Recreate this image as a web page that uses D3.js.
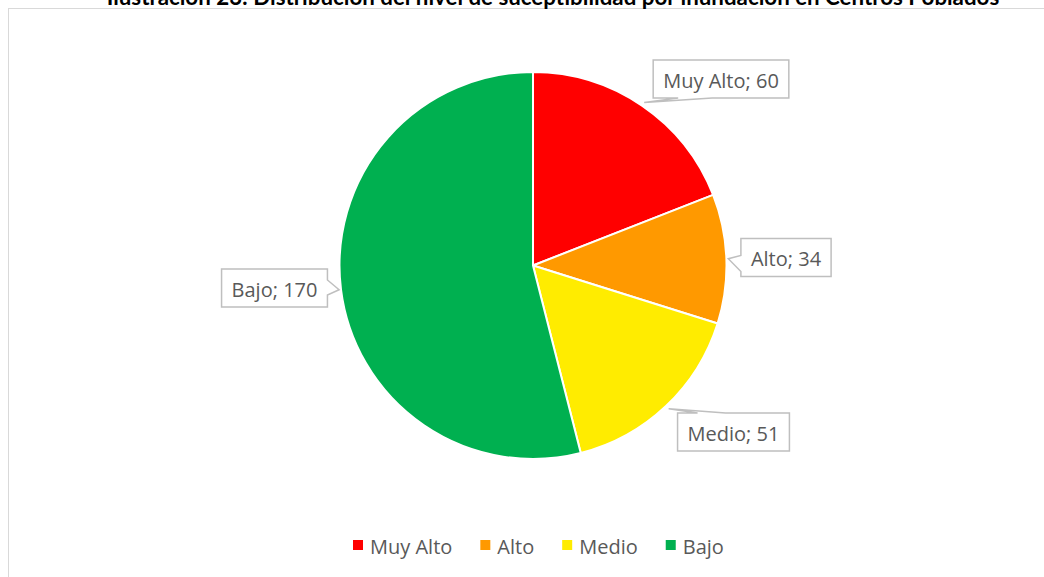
<!DOCTYPE html>
<html>
<head>
<meta charset="utf-8">
<script src="https://cdn.jsdelivr.net/npm/d3@7"></script>
<style>
  html, body { margin: 0; padding: 0; background: #ffffff; }
  svg { display: block; }
</style>
</head>
<body>
<svg id="chart" width="1044" height="577"></svg>
<script>
// Susceptibilidad por inundación en centros poblados
const categories = ["Muy Alto", "Alto", "Medio", "Bajo"];
const values = [60, 34, 51, 170];
const colors = ["#FF0000", "#FF9900", "#FFEC00", "#00B050"];
const titleText = "Ilustración 23: Distribución del nivel de suceptibilidad por inundación en Centros Poblados";

const W = 1044, H = 577;
const svg = d3.select("#chart");
const FONT = "'Open Sans', sans-serif";
const TFONT = "Lato, 'Open Sans', sans-serif";

// chart area frame
svg.append("rect")
  .attr("x", 8.5).attr("y", 8.5)
  .attr("width", W + 10).attr("height", H + 10)
  .attr("fill", "#ffffff")
  .attr("stroke", "#d9d9d9").attr("stroke-width", 1);

// title (partly above the frame)
const title = svg.append("text")
  .attr("x", 553).attr("y", 5)
  .attr("text-anchor", "middle")
  .attr("font-family", TFONT)
  .attr("font-weight", "bold")
  .attr("font-size", 15)
  .attr("fill", "#000000")
  .text(titleText);
const tw = title.node().getComputedTextLength();
title.attr("font-size", 15 * 893 / tw);

// pie
const cx = 533, cy = 265.5, R = 193.5;
const pie = d3.pie().sort(null).value(d => d.value);
const arcs = pie(categories.map((c, i) => ({ name: c, value: values[i], color: colors[i] })));
const arc = d3.arc().innerRadius(0).outerRadius(R);

const g = svg.append("g").attr("transform", `translate(${cx},${cy})`);
g.selectAll("path")
  .data(arcs)
  .join("path")
  .attr("d", arc)
  .attr("fill", d => d.data.color)
  .attr("stroke", "#ffffff")
  .attr("stroke-width", 2)
  .attr("stroke-linejoin", "round");

// callout boxes: centre of each box and the side its pointer leaves from
const labelLayout = [
  { cx: 721, cy: 79, side: "bottom", base: [-46, -13], tipR: 1.02 },
  { cx: 786, cy: 257.5, side: "left", base: [-2, 14], tipR: 1.01 },
  { cx: 733.5, cy: 432, side: "top", base: [-38, -10], tipR: 1.02 },
  { cx: 274.5, cy: 288, side: "right", base: [-8, 7], tipR: 1.01 }
];

const labels = svg.append("g");
arcs.forEach((a, i) => {
  const L = labelLayout[i];
  const mid = (a.startAngle + a.endAngle) / 2;
  // tip of the pointer sits on the slice's outer edge
  const tipX = cx + Math.sin(mid) * R * L.tipR;
  const tipY = cy - Math.cos(mid) * R * L.tipR;

  const t = labels.append("text")
    .attr("x", L.cx).attr("y", L.cy + 1)
    .attr("text-anchor", "middle")
    .attr("dominant-baseline", "central")
    .attr("font-family", FONT)
    .attr("font-size", 20)
    .attr("fill", "#595959")
    .text(`${a.data.name}; ${a.data.value}`);
  const w = t.node().getComputedTextLength() + 20;
  const h = 38;
  const x0 = L.cx - w / 2, x1 = L.cx + w / 2, y0 = L.cy - h / 2, y1 = L.cy + h / 2;

  let pts;
  if (L.side === "bottom") {
    const bx0 = x0 + 25, bx1 = x0 + 59;
    pts = [[x0, y0], [x1, y0], [x1, y1], [bx1, y1], [tipX, tipY], [bx0, y1], [x0, y1]];
  } else if (L.side === "left") {
    const by0 = L.cy + L.base[0], by1 = L.cy + L.base[1];
    pts = [[x0, y0], [x1, y0], [x1, y1], [x0, y1], [x0, by1], [tipX, tipY], [x0, by0]];
  } else if (L.side === "top") {
    const bx0 = x0 + 20, bx1 = x0 + 48;
    pts = [[x0, y0], [bx0, y0], [tipX, tipY], [bx1, y0], [x1, y0], [x1, y1], [x0, y1]];
  } else {
    const by0 = L.cy + L.base[0], by1 = L.cy + L.base[1];
    pts = [[x0, y0], [x1, y0], [x1, by0], [tipX, tipY], [x1, by1], [x1, y1], [x0, y1]];
  }
  labels.insert("path", "text")
    .attr("d", d3.line()(pts) + "Z")
    .attr("fill", "#ffffff")
    .attr("stroke", "#bfbfbf")
    .attr("stroke-width", 1.5);
});

// legend
const legend = svg.append("g");
let lx = 353;
const ly = 545;
categories.forEach((c, i) => {
  legend.append("rect")
    .attr("x", lx).attr("y", ly - 5)
    .attr("width", 10).attr("height", 10)
    .attr("fill", colors[i]);
  const t = legend.append("text")
    .attr("x", lx + 17).attr("y", ly + 1)
    .attr("dominant-baseline", "central")
    .attr("font-family", FONT)
    .attr("font-size", 20)
    .attr("fill", "#595959")
    .text(c);
  lx += 17 + t.node().getComputedTextLength() + 28;
});
</script>
</body>
</html>
